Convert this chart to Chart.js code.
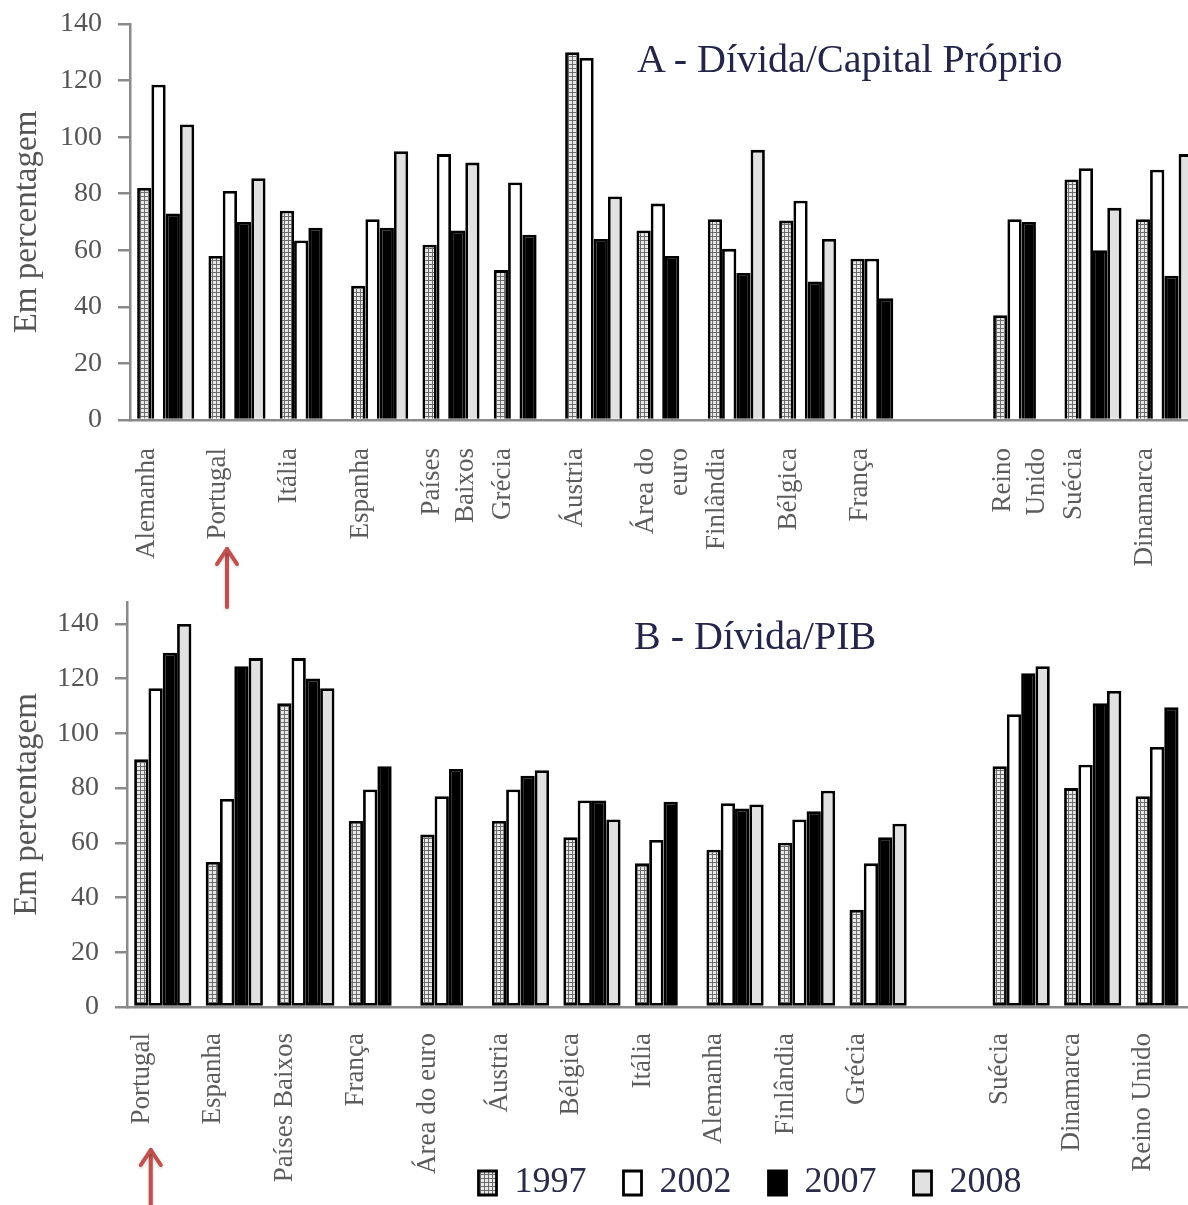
<!DOCTYPE html>
<html><head><meta charset="utf-8">
<script src="https://cdn.jsdelivr.net/npm/chart.js@4.4.1/dist/chart.umd.min.js"></script>
<style>
html,body{margin:0;padding:0;background:#fff;overflow:hidden;width:1188px;height:1205px;}
#wrap{position:relative;width:1188px;height:1205px;overflow:hidden;background:#fff;}
canvas{position:absolute;left:0;}
#cA{top:0;} #cB{top:590px;}
.ttl{position:absolute;font-family:'Liberation Serif',serif;font-size:40px;color:#25254a;white-space:pre;line-height:1;}
</style></head><body>
<div id="wrap">
<canvas id="cA" width="1200" height="612"></canvas>
<canvas id="cB" width="1200" height="621"></canvas>
<div class="ttl" style="left:637px;top:39px">A - Dívida/Capital Próprio</div>
<div class="ttl" style="left:634px;top:616px">B - Dívida/PIB</div>
</div>
<script>
// ---- Data: Panel A (Dívida/Capital Próprio) ----
const catsA = ['Alemanha','Portugal','Itália','Espanha',['Países','Baixos'],'Grécia','Áustria',['Área do','euro'],'Finlândia','Bélgica','França','',['Reino','Unido'],'Suécia','Dinamarca'];
const a1997 = [82, 58, 74, 47.5, 62, 53, 130, 67, 71, 70.5, 57, null, 37, 85, 71];
const a2002 = [118.5, 81, 63.5, 71, 94, 84, 128, 76.5, 60.5, 77.5, 57, null, 71, 89, 88.5];
const a2007 = [73, 70, 68, 68, 67, 65.5, 64, 58, 52, 49, 43, null, 70, 60, 51];
const a2008 = [104.5, 85.5, null, 95, 91, null, 79, null, 95.5, 64, null, null, null, 75, 94];

// ---- Data: Panel B (Dívida/PIB) ----
const catsB = ['Portugal','Espanha','Países Baixos','França','Área do euro','Áustria','Bélgica','Itália','Alemanha','Finlândia','Grécia','','Suécia','Dinamarca','Reino Unido'];
const b1997 = [90.5, 53, 111, 68, 63, 68, 62, 52.5, 57.5, 60, 35.5, null, 88, 80, 77];
const b2002 = [116.5, 76, 127.5, 79.5, 77, 79.5, 75.5, 61, 74.5, 68.5, 52.5, null, 107, 88.5, 95];
const b2007 = [129.5, 124.5, 120, 88, 87, 84.5, 75.5, 75, 72.5, 71.5, 62, null, 122, 111, 109.5];
const b2008 = [140, 127.5, 116.5, null, null, 86.5, 68.5, null, 74, 79, 67, null, 124.5, 115.5, null];

const years = ['1997','2002','2007','2008'];
const yTicksMax = 140;

const F = "'Liberation Serif', serif";
const AX = '#8a8a8a';

function hatch(ctx){
  const c = document.createElement('canvas'); c.width = 4; c.height = 4;
  const g = c.getContext('2d');
  g.fillStyle = '#e9e9e9'; g.fillRect(0,0,4,4);
  g.fillStyle = '#6c6c6c'; g.fillRect(0,0,4,1); g.fillRect(0,0,1,4);
  return ctx.createPattern(c,'repeat');
}

function makeDatasets(ctx, series, skipped){
  const fills = [hatch(ctx), '#ffffff', '#000000', '#e1e1e1'];
  return series.map((d,i)=>({
    label: years[i], data: d, backgroundColor: fills[i],
    borderColor: '#000', borderWidth: 2.8, borderSkipped: skipped,
    categoryPercentage: 0.8, barPercentage: 1.0
  }));
}

const arrowPlugin = {
  id: 'arrow',
  afterDraw(chart, args, o){
    const x = chart.scales.x.getPixelForValue(o.index) + o.dx;
    const c = chart.ctx; c.save();
    c.strokeStyle = '#c0504d'; c.lineWidth = 4; c.lineCap = 'round'; c.lineJoin = 'round';
    c.shadowColor = 'rgba(0,0,0,0.25)'; c.shadowBlur = 3; c.shadowOffsetY = 1;
    c.beginPath(); c.moveTo(x, o.y1); c.lineTo(x, o.y0 + 2); c.stroke();
    c.beginPath(); c.moveTo(x - 10, o.y0 + 17); c.lineTo(x, o.y0 + 2); c.lineTo(x + 10, o.y0 + 17); c.stroke();
    c.restore();
  }
};

// lets the rotated category labels run down past the (shortened) axis box, and moves the legend
const layoutTweak = {
  id: 'layoutTweak',
  afterLayout(chart, args, o){
    chart.scales.x.bottom = chart.height;
    if (chart.legend && o.dx){ chart.legend.left += o.dx; chart.legend.right += o.dx; }
  }
};

function options(cfg){
  return {
    responsive: false, animation: false, devicePixelRatio: 1,
    layout: {padding: {top: cfg.top, left: 0, right: 0, bottom: 0}},
    plugins: {
      legend: cfg.legend,
      tooltip: {enabled: false},
      arrow: cfg.arrow,
      layoutTweak: {dx: cfg.legendDx || 0}
    },
    scales: {
      x: {
        grid: {display: true, drawOnChartArea: false, drawTicks: false, color: AX},
        border: {color: AX, width: 2.5},
        ticks: {autoSkip: false, maxRotation: 90, minRotation: 90, padding: cfg.xpad, labelOffset: cfg.labelOffset,
                color: '#5c5c5c', font: {family: F, size: 27, lineHeight: 1.25}},
        afterFit(s){ s.height = cfg.xh; s.paddingLeft = 0; s.paddingRight = 0; }
      },
      y: {
        min: 0, max: cfg.ymax,
        ticks: {stepSize: 20, includeBounds: false, padding: 16, color: '#555', font: {family: F, size: 28}},
        grid: {drawOnChartArea: false, color: AX, lineWidth: 2.5, tickLength: 12},
        border: {color: AX, width: 2.5},
        title: {display: true, text: 'Em percentagem', color: '#555', font: {family: F, size: 33}, padding: {top: 8, bottom: 0}},
        afterFit(s){ s.width = cfg.yw; s.paddingTop = 0; s.paddingBottom = 0; }
      }
    }
  };
}

const ctxA = document.getElementById('cA').getContext('2d');
new Chart(ctxA, {
  type: 'bar',
  data: {labels: catsA, datasets: makeDatasets(ctxA, [a1997, a2002, a2007, a2008], 'start')},
  options: options({top: 24, xh: 192, yw: 130, ymax: yTicksMax, xpad: 28, labelOffset: -19,
    legend: {display: false},
    arrow: {index: 1, dx: -10, y0: 547, y1: 607}}),
  plugins: [arrowPlugin, layoutTweak]
});

const ctxB = document.getElementById('cB').getContext('2d');
new Chart(ctxB, {
  type: 'bar',
  data: {labels: catsB, datasets: makeDatasets(ctxB, [b1997, b2002, b2007, b2008], false)},
  options: options({top: 12, xh: 121, yw: 127, ymax: 148, xpad: 26, labelOffset: -21,
    legendDx: 150,
    legend: {display: true, position: 'bottom',
      labels: {boxWidth: 18, boxHeight: 24, padding: 37, color: '#2b2b4a', font: {family: F, size: 36}}},
    arrow: {index: 0, dx: -12, y0: 558, y1: 618}}),
  plugins: [arrowPlugin, layoutTweak]
});
</script>
</body></html>
